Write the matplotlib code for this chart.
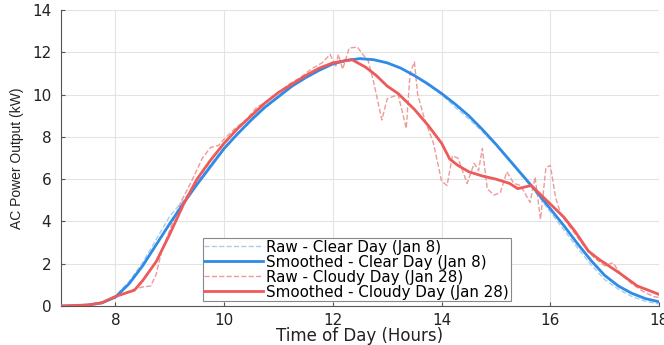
import matplotlib
matplotlib.use("Agg")
import matplotlib.pyplot as plt

plt.rcParams['font.family'] = ['DejaVu Sans']

# Smoothed / raw clear day (Jan 8)
t_clear = [7.0, 7.25, 7.5, 7.75, 8.0, 8.25, 8.5, 8.75, 9.0, 9.25, 9.5, 9.75, 10.0, 10.25,
           10.5, 10.75, 11.0, 11.25, 11.5, 11.75, 12.0, 12.25, 12.5, 12.75, 13.0, 13.25,
           13.5, 13.75, 14.0, 14.25, 14.5, 14.75, 15.0, 15.25, 15.5, 15.75, 16.0, 16.25,
           16.5, 16.75, 17.0, 17.25, 17.5, 17.75, 18.0]
smooth_clear = [0.0, 0.01, 0.05, 0.15, 0.42, 1.05, 1.9, 2.9, 3.9, 4.85, 5.75, 6.6, 7.45, 8.15,
                8.8, 9.4, 9.9, 10.4, 10.8, 11.15, 11.45, 11.62, 11.7, 11.65, 11.5, 11.25,
                10.9, 10.5, 10.05, 9.55, 9.0, 8.35, 7.65, 6.9, 6.15, 5.4, 4.6, 3.8,
                2.95, 2.15, 1.45, 0.95, 0.6, 0.35, 0.2]
raw_clear = [0.0, 0.01, 0.05, 0.17, 0.48, 1.15, 2.05, 3.15, 4.25, 5.0, 5.85, 6.7, 7.5, 8.2,
             8.85, 9.45, 9.95, 10.45, 10.85, 11.2, 11.5, 11.65, 11.72, 11.65, 11.5, 11.25,
             10.9, 10.45, 10.0, 9.4, 8.85, 8.25, 7.6, 6.85, 6.1, 5.3, 4.45, 3.6,
             2.75, 1.95, 1.25, 0.8, 0.45, 0.22, 0.1]

# Smoothed cloudy day (Jan 28)
t_cloudy_s = [7.0, 7.5, 7.75, 8.0, 8.35, 8.5, 8.75, 9.0, 9.25, 9.5, 9.75, 10.0, 10.25, 10.5,
              10.75, 11.0, 11.25, 11.5, 11.75, 12.0, 12.35, 12.6, 12.8, 13.0, 13.2, 13.5,
              13.75, 14.0, 14.15, 14.3, 14.5, 14.75, 15.0, 15.25, 15.4, 15.65, 15.95,
              16.25, 16.45, 16.7, 16.9, 17.25, 17.6, 18.0]
smooth_cloudy = [0.0, 0.05, 0.15, 0.45, 0.75, 1.2, 2.1, 3.4, 4.8, 6.0, 6.9, 7.7, 8.4, 9.0,
                 9.6, 10.1, 10.5, 10.9, 11.25, 11.5, 11.65, 11.3, 10.9, 10.4, 10.05, 9.3,
                 8.55, 7.7, 6.95, 6.65, 6.35, 6.15, 6.0, 5.8, 5.55, 5.7, 4.95,
                 4.2, 3.55, 2.6, 2.2, 1.6, 0.95, 0.55]

# Raw cloudy day (Jan 28)
t_cloudy_r = [7.0, 7.5, 7.8, 8.0, 8.2, 8.35, 8.5, 8.65, 8.75, 8.85, 9.0, 9.2, 9.4, 9.6,
              9.75, 9.9, 10.0, 10.2, 10.4, 10.6, 10.8, 11.0, 11.2, 11.4, 11.6, 11.8,
              11.95, 12.05, 12.1, 12.18, 12.3, 12.45, 12.55, 12.65, 12.75, 12.9, 13.0,
              13.2, 13.35, 13.42, 13.5, 13.56, 13.68, 13.85, 14.0, 14.1, 14.2, 14.3,
              14.47, 14.6, 14.68, 14.75, 14.84, 14.96, 15.08, 15.2, 15.33, 15.45, 15.63,
              15.72, 15.82, 15.92, 16.0, 16.1, 16.2, 16.4, 16.6, 16.8, 17.0, 17.15,
              17.3, 17.5, 17.7, 17.9, 18.0]
raw_cloudy = [0.0, 0.05, 0.2, 0.45, 0.65, 0.8, 0.9, 0.95, 1.5, 2.6, 3.6, 4.9, 5.9, 7.0,
              7.5, 7.6, 7.9, 8.4, 8.8, 9.4, 9.7, 10.1, 10.5, 10.8, 11.2, 11.5,
              11.9, 11.3, 11.9, 11.2, 12.2, 12.25, 11.9, 11.6, 10.6, 8.8, 9.8,
              10.0, 8.4, 11.0, 11.55, 10.0, 8.9, 7.7, 5.9, 5.7, 7.1, 7.0,
              5.8, 6.75, 6.4, 7.45, 5.55, 5.25, 5.35, 6.35, 5.8, 5.7, 4.9,
              6.1, 4.1, 6.55, 6.65, 5.1, 4.3, 3.6, 2.9, 2.3, 1.9, 2.05,
              1.5, 1.05, 0.7, 0.45, 0.4]

labels = ['Raw - Clear Day (Jan 8)', 'Smoothed - Clear Day (Jan 8)',
          'Raw - Cloudy Day (Jan 28)', 'Smoothed - Cloudy Day (Jan 28)']
x_ticks = [8, 10, 12, 14, 16, 18]
y_ticks = [0, 2, 4, 6, 8, 10, 12, 14]

fig = plt.figure(figsize=(6.64, 3.45), dpi=100)
ax = fig.add_axes([0.092, 0.113, 0.9005, 0.858])

c_blue = '#2E8BE6'
c_red = '#EC5A5A'
ax.plot(t_clear, raw_clear, '--', color='#A8CDEE', lw=1.0, label=labels[0], zorder=3)
ax.plot(t_clear, smooth_clear, '-', color=c_blue, lw=2.0, label=labels[1], zorder=4)
ax.plot(t_cloudy_r, raw_cloudy, '--', color='#EE9A9A', lw=1.0, label=labels[2], zorder=3)
ax.plot(t_cloudy_s, smooth_cloudy, '-', color=c_red, lw=2.0, label=labels[3], zorder=5)

ax.set_xlim(7, 18)
ax.set_ylim(0, 14)
ax.set_xticks(x_ticks)
ax.set_yticks(y_ticks)
ax.grid(True, color='#E3E3E3', lw=0.8)
ax.set_axisbelow(True)
for s in ['top', 'right']:
    ax.spines[s].set_visible(False)
for s in ['left', 'bottom']:
    ax.spines[s].set_color('#555555')
    ax.spines[s].set_linewidth(0.8)
ax.tick_params(direction='in', length=3, width=0.8, color='#555555',
               labelsize=11, labelcolor='#222222', pad=5)
ax.tick_params(axis='y', pad=7)
ax.set_xlabel('Time of Day (Hours)', fontsize=12, color='#222222', labelpad=-1)
ax.set_ylabel('AC Power Output (kW)', family=['Liberation Sans'], fontsize=10,
              color='#222222', labelpad=6)

leg = ax.legend(loc='lower left', bbox_to_anchor=(0.237, 0.016), fontsize=10.9,
                frameon=True, fancybox=False, edgecolor='#888888', framealpha=1,
                handlelength=3.9, handletextpad=0.2, borderpad=0.1,
                labelspacing=0.0, borderaxespad=0)
leg.get_frame().set_linewidth(0.8)

fig.savefig('out.png', dpi=100)
